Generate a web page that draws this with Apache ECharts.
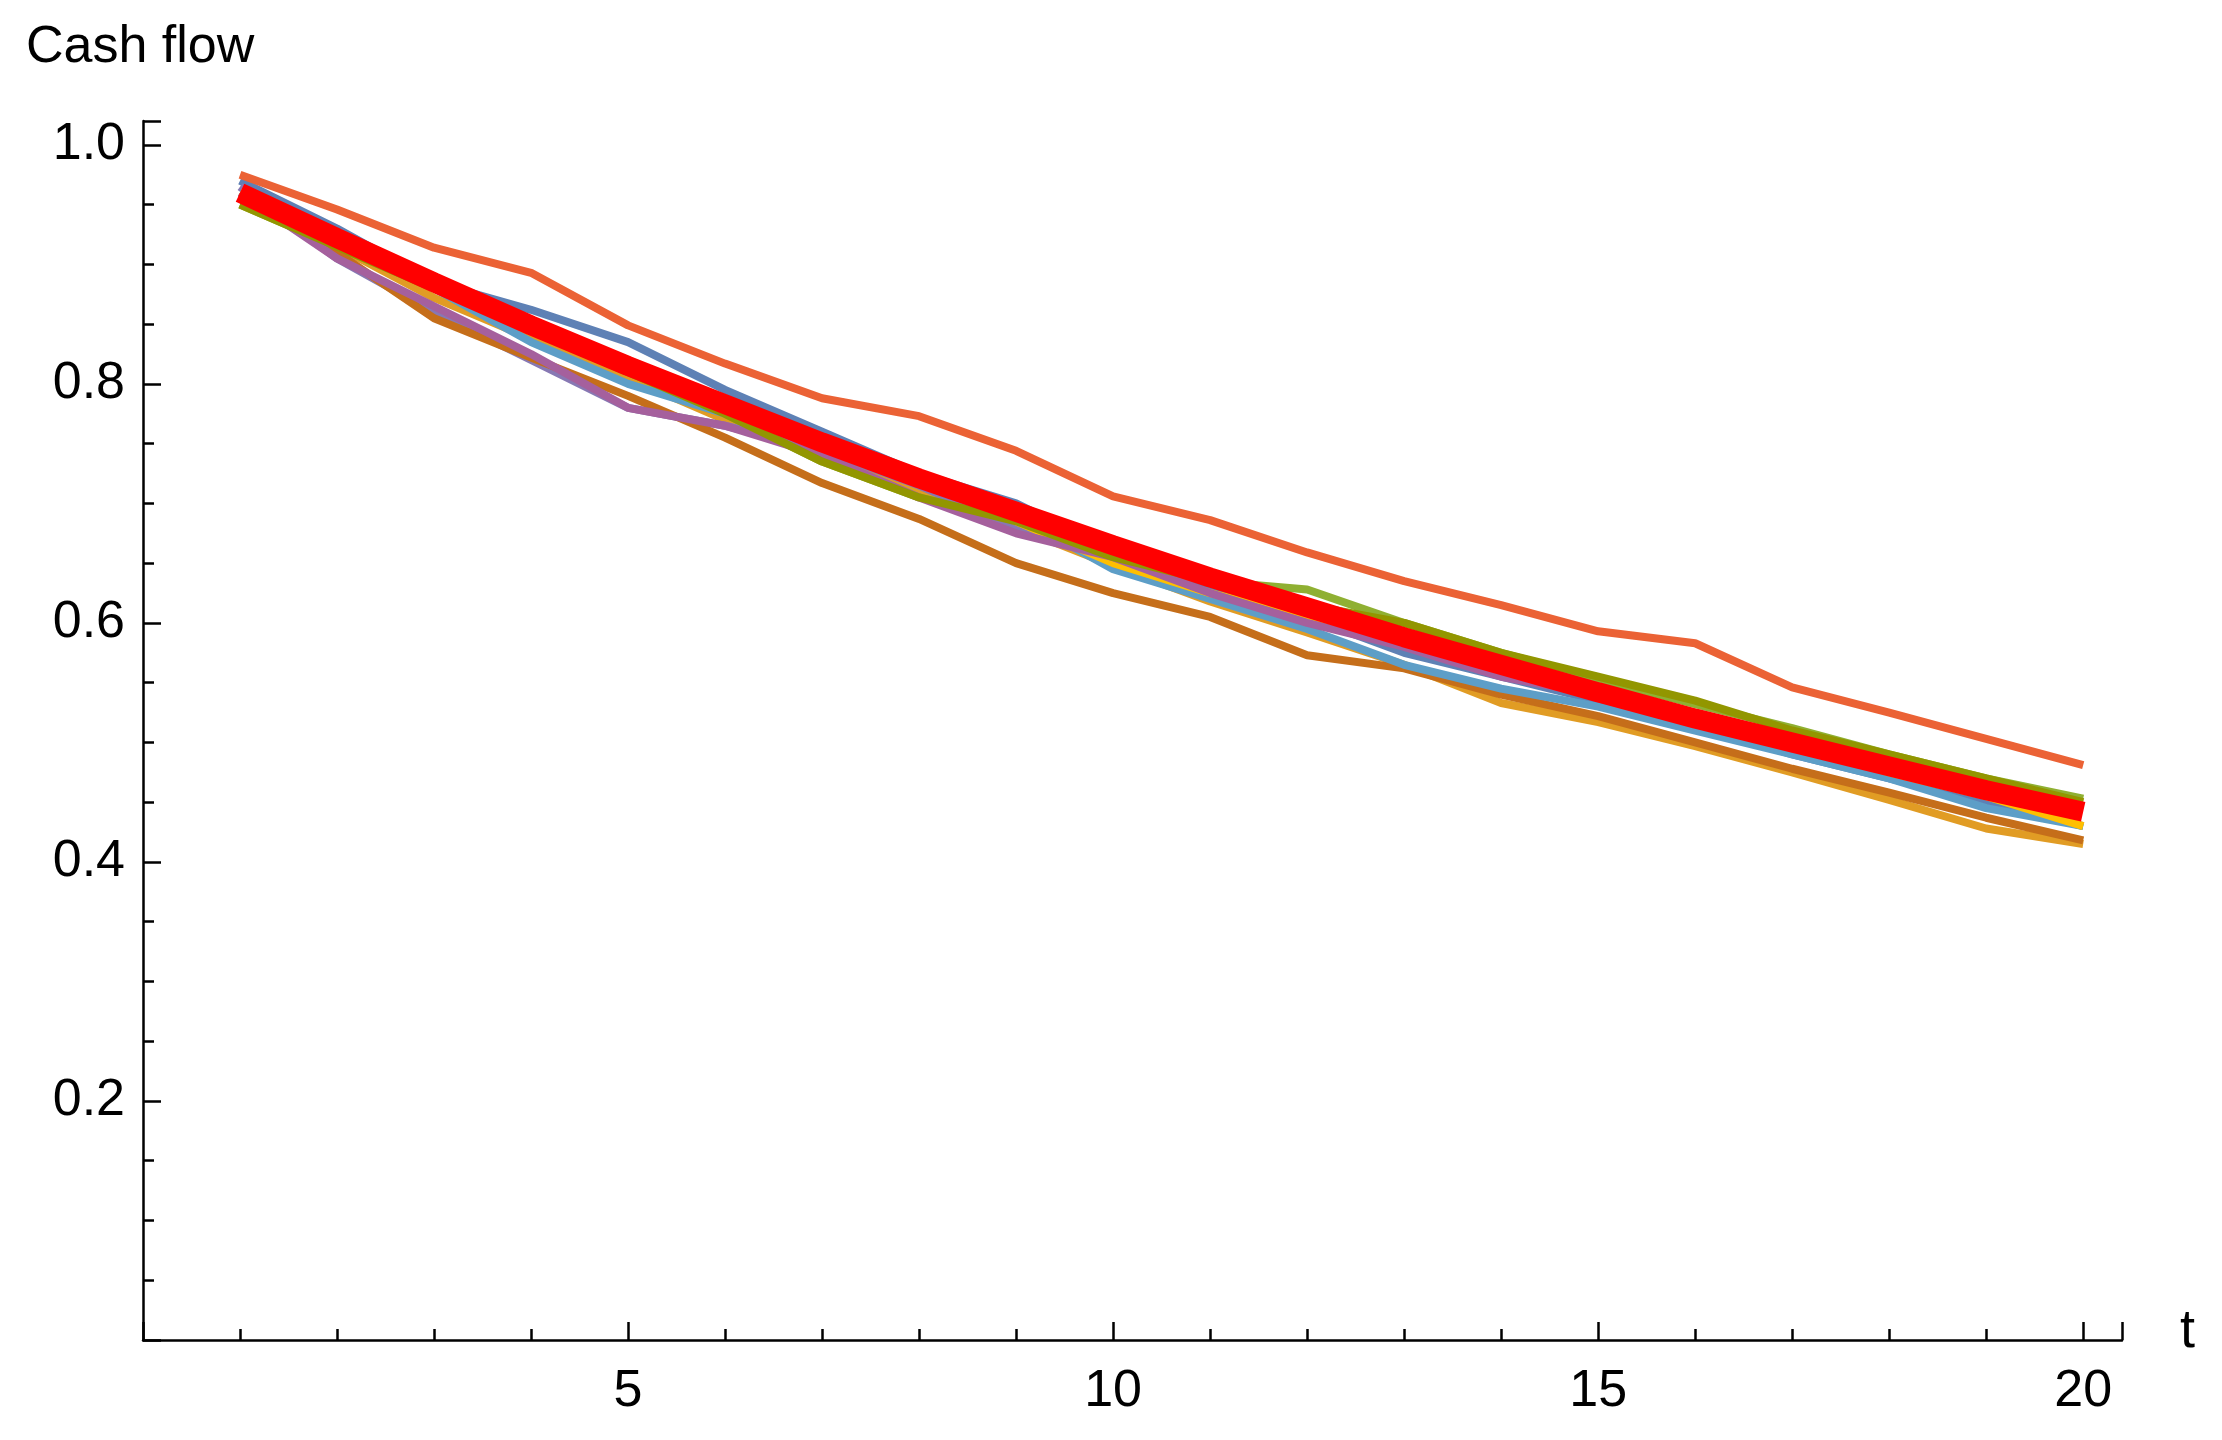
<!DOCTYPE html>
<html>
<head>
<meta charset="UTF-8">
<title>Cash flow</title>
<script src="https://cdn.jsdelivr.net/npm/echarts@6/dist/echarts.min.js"></script>
<style>
  * { margin: 0; padding: 0; }
  html, body { width: 100%; height: 100%; background: #fff; }
  #main { width: 2222px; height: 1440px; }
</style>
</head>
<body>
<div id="main"></div>
<script>
// t = 1..20
var t = [1,2,3,4,5,6,7,8,9,10,11,12,13,14,15,16,17,18,19,20];

// simulated paths
var sim1  = [0.970,0.930,0.885,0.862,0.835,0.795,0.760,0.725,0.700,0.660,0.630,0.605,0.575,0.555,0.535,0.515,0.490,0.470,0.450,0.430];
var sim2  = [0.960,0.915,0.872,0.838,0.805,0.770,0.740,0.710,0.680,0.648,0.618,0.592,0.565,0.533,0.517,0.497,0.475,0.452,0.428,0.415];
var sim3  = [0.950,0.915,0.880,0.845,0.810,0.775,0.735,0.705,0.685,0.650,0.635,0.628,0.600,0.575,0.553,0.532,0.512,0.490,0.470,0.453];
var sim4  = [0.975,0.946,0.914,0.893,0.849,0.817,0.788,0.773,0.744,0.706,0.686,0.659,0.635,0.615,0.593,0.583,0.546,0.525,0.503,0.481];
var sim5  = [0.965,0.905,0.860,0.820,0.780,0.765,0.745,0.715,0.680,0.660,0.635,0.610,0.585,0.560,0.540,0.520,0.500,0.485,0.465,0.445];
var sim6  = [0.960,0.910,0.855,0.822,0.790,0.755,0.717,0.687,0.650,0.625,0.605,0.573,0.562,0.540,0.522,0.500,0.478,0.458,0.437,0.418];
var sim7  = [0.960,0.920,0.880,0.835,0.800,0.775,0.755,0.720,0.690,0.645,0.620,0.595,0.565,0.545,0.530,0.510,0.490,0.470,0.445,0.430];
var sim8  = [0.960,0.920,0.890,0.850,0.820,0.785,0.750,0.720,0.685,0.650,0.625,0.605,0.585,0.560,0.540,0.520,0.500,0.475,0.455,0.430];
var sim9  = [0.960,0.905,0.865,0.825,0.780,0.765,0.740,0.705,0.675,0.655,0.625,0.600,0.580,0.555,0.540,0.520,0.495,0.485,0.465,0.445];
var sim10 = [0.950,0.915,0.880,0.845,0.810,0.775,0.735,0.705,0.685,0.655,0.635,0.615,0.600,0.575,0.555,0.535,0.510,0.490,0.470,0.450];
// expected cash flow (thick red)
var mean  = [0.960,0.922,0.885,0.849,0.815,0.783,0.751,0.721,0.693,0.665,0.638,0.613,0.588,0.565,0.542,0.520,0.500,0.480,0.460,0.442];

var paths = [sim1,sim2,sim3,sim5,sim6,sim7,sim8,sim9,sim10,sim4];
var colors = ['#5E81B5','#E19C24','#8FB032','#8778B3','#C56E1A','#5D9EC7','#FFBF00','#A5609D','#929600','#EB6235'];

function pairs(arr){ return t.map(function(x,i){ return [x, arr[i]]; }); }

var series = paths.map(function(p, i){
  return { type:'line', data:pairs(p), symbol:'none', silent:true,
           lineStyle:{ color:colors[i], width:8 } };
});
series.push({ type:'line', data:pairs(mean), symbol:'none', silent:true,
              lineStyle:{ color:'#FF0000', width:20 } });

var axisFont = { fontFamily:'Liberation Sans', fontSize:52, color:'#000' };
var chart = echarts.init(document.getElementById('main'));
chart.setOption({
  animation:false,
  grid:{ left:143, right:100, top:121, bottom:100, containLabel:false },
  xAxis:{ type:'value', min:0, max:20.4, interval:5,
    axisLine:{ onZero:false, lineStyle:{ color:'#000', width:2.5 } },
    axisTick:{ inside:true, length:18, lineStyle:{ color:'#000', width:2.5 } },
    minorTick:{ show:true, splitNumber:5, length:11, lineStyle:{ color:'#000', width:2.5 } },
    splitLine:{ show:false },
    axisLabel:Object.assign({ margin:26, showMaxLabel:false,
      formatter:function(v){ return v === 0 ? '' : v; } }, axisFont) },
  yAxis:{ type:'value', min:0, max:1.02, interval:0.2,
    axisLine:{ show:true, lineStyle:{ color:'#000', width:2.5 } },
    axisTick:{ show:true, inside:true, length:18, lineStyle:{ color:'#000', width:2.5 } },
    minorTick:{ show:true, splitNumber:4, length:11, lineStyle:{ color:'#000', width:2.5 } },
    splitLine:{ show:false },
    axisLabel:Object.assign({ margin:18, showMaxLabel:false,
      formatter:function(v){ return v === 0 ? '' : v.toFixed(1); } }, axisFont) },
  graphic:[
    { type:'text', left:26, top:22, style:{ text:'Cash flow', font:'52px "Liberation Sans"', fill:'#000' } },
    { type:'text', left:2180, top:1305, style:{ text:'t', font:'54px "Liberation Sans"', fill:'#000' } }
  ],
  series:series
});
</script>
</body>
</html>
